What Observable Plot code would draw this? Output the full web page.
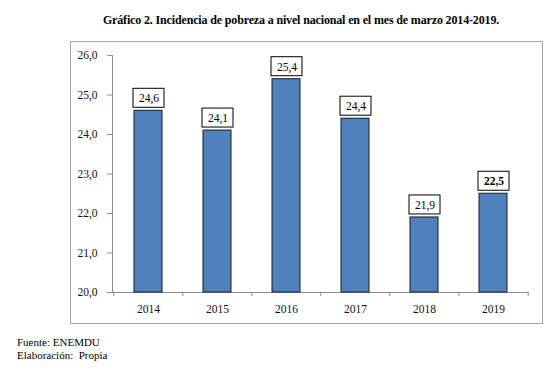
<!DOCTYPE html>
<html>
<head>
<meta charset="utf-8">
<script src="https://cdn.jsdelivr.net/npm/d3@7"></script>
<script src="https://cdn.jsdelivr.net/npm/@observablehq/plot@0.6"></script>
<style>
  html, body { margin: 0; padding: 0; background: #fff; }
  body { width: 560px; height: 374px; position: relative; font-family: "Liberation Serif", "Times New Roman", serif; color: #000; }
  #title { position: absolute; top: 13px; left: 0; width: 602px; text-align: center; font-weight: bold; font-size: 12px; letter-spacing: -0.15px; }
  #frame { position: absolute; left: 70px; top: 41px; width: 471px; height: 281px; border: 1px solid #a6a6a6; }
  #frame svg { display: block; }
  #caption { position: absolute; left: 17px; top: 336px; font-size: 11px; line-height: 13px; }
</style>
</head>
<body>
<div id="title">Gráfico 2. Incidencia de pobreza a nivel nacional en el mes de marzo 2014-2019.</div>
<div id="frame"></div>
<div id="caption">Fuente: ENEMDU<br>Elaboración:&nbsp; Propia</div>
<script>
const years = ["2014", "2015", "2016", "2017", "2018", "2019"];
const values = [24.6, 24.1, 25.4, 24.4, 21.9, 22.5];
const yTicks = [20, 21, 22, 23, 24, 25, 26];
const highlightYear = "2019";

const data = years.map((year, i) => ({year, value: values[i]}));
const fmt = d => d.toFixed(1).replace(".", ",");

const width = 471, height = 281;
const marginLeft = 41, marginRight = 14, marginTop = 13, marginBottom = 31;
const step = (width - marginLeft - marginRight) / years.length;
const axisColor = "#8c8c8c";

const chart = Plot.plot({
  width, height, marginLeft, marginRight, marginTop, marginBottom,
  style: {fontFamily: "'Liberation Serif', 'Times New Roman', serif", fontSize: "11.5px", color: "#000", background: "#fff"},
  x: {domain: years, paddingInner: 0.6, paddingOuter: 0.3, label: null},
  y: {domain: [20, 26], label: null},
  marks: [
    Plot.frame({anchor: "left", stroke: axisColor}),
    Plot.frame({anchor: "bottom", stroke: axisColor}),
    Plot.axisY({ticks: yTicks, tickFormat: fmt, tickSize: 5, tickPadding: 10, stroke: axisColor, fill: "#111", label: null}),
    Plot.axisX({tickSize: 0, tickPadding: 12, fill: "#111", label: null}),
    Plot.ruleX(years, {x: d => d, y1: 20, y2: 20, dx: -step / 2, insetBottom: -4, stroke: axisColor}),
    Plot.ruleX(years.slice(-1), {x: d => d, y1: 20, y2: 20, dx: step / 2, insetBottom: -4, stroke: axisColor}),
    Plot.barY(data, {x: "year", y1: 20, y2: "value", fill: "#4F81BD", stroke: "#1a1a2a", strokeWidth: 1}),
    Plot.barY(data, {x: "year", y1: "value", y2: "value", insetTop: -22, insetBottom: 3, insetLeft: -1, insetRight: -2, fill: "#fff", stroke: "#000", strokeWidth: 1}),
    Plot.text(data.filter(d => d.year !== highlightYear), {x: "year", y: "value", text: d => fmt(d.value), dy: -12, dx: 0.5, fill: "#000", fontSize: 11.5}),
    Plot.text(data.filter(d => d.year === highlightYear), {x: "year", y: "value", text: d => fmt(d.value), dy: -12, dx: 0.5, fill: "#000", fontSize: 11.5, fontWeight: "bold"})
  ]
});
document.getElementById("frame").appendChild(chart);
</script>
</body>
</html>
